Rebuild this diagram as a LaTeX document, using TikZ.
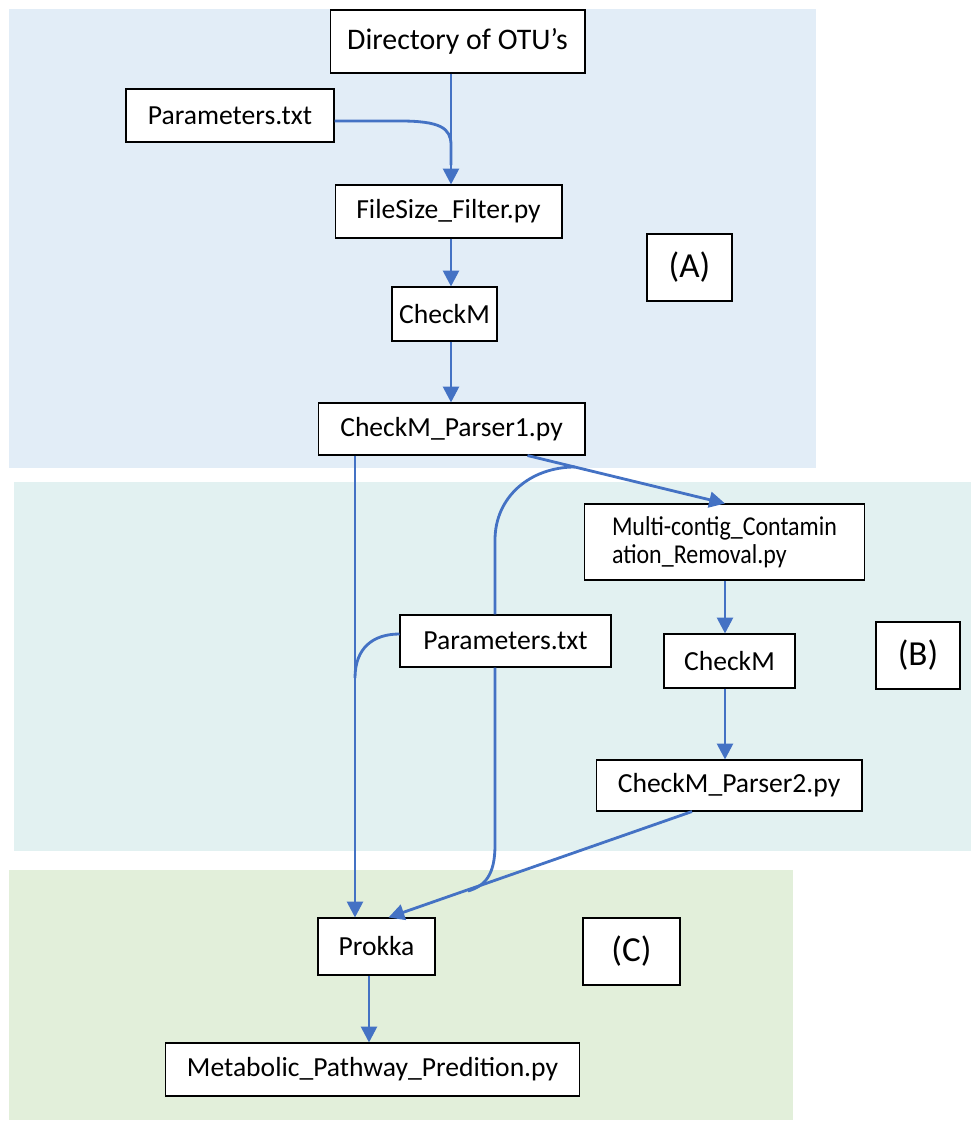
\documentclass[tikz,border=0pt]{standalone}
\usepackage{fontspec}
\setmainfont{Carlito}
\usetikzlibrary{arrows.meta, calc}

\definecolor{bandA}{HTML}{E2EDF7}
\definecolor{bandB}{HTML}{E2F1F1}
\definecolor{bandC}{HTML}{E2EFDA}
\definecolor{flow}{HTML}{4472C4}

\begin{document}
\begin{tikzpicture}[
        x=0.02cm, y=-0.02cm,
        box/.style={rectangle, draw=black, fill=white, line width=0.6pt, inner sep=0pt, align=center, font=\fontsize{15.7}{19}\selectfont},
        tag/.style={box, font=\fontsize{20}{24}\selectfont},
        arr/.style={draw=flow, line width=1.6pt, -{Triangle[length=9pt, width=9pt]}},
        line/.style={draw=flow, line width=1.6pt}
    ]
    \useasboundingbox (0,0) rectangle (972,1122);

    % Bands
    \fill[bandA] (9,9) rectangle (816,468);
    \fill[bandB] (14,482) rectangle (971,851);
    \fill[bandC] (9,870) rectangle (793,1120);

    % Stage (A)
    \node[box, minimum width=5.1cm, minimum height=1.26cm, font=\fontsize{17}{20}\selectfont] (dir) at (457.5,41.5) {Directory of OTU’s};
    \node[box, minimum width=4.16cm, minimum height=1.06cm] (paramA) at (230,115.5) {Parameters.txt};
    \node[box, minimum width=4.54cm, minimum height=1.06cm] (filter) at (448.5,211.5) {FileSize\_Filter.py};
    \node[tag, minimum width=1.7cm, minimum height=1.34cm] (tagA) at (689.5,267.5) {(A)};
    \node[box, minimum width=2.1cm, minimum height=1.08cm] (checkA) at (444.5,314) {CheckM};
    \node[box, minimum width=5.34cm, minimum height=1.04cm] (parserA) at (451.5,429) {CheckM\_Parser1.py};

    % Stage (B)
    \node[box, minimum width=5.6cm, minimum height=1.52cm, align=left, inner xsep=0.44cm, anchor=west, font=\fontsize{15.5}{16}\selectfont\addfontfeatures{FakeStretch=0.88}] (multi) at (584,542) {Multi-contig\_Contamin\\ation\_Removal.py};
    \node[box, minimum width=4.22cm, minimum height=1.04cm] (paramB) at (505.5,641) {Parameters.txt};
    \node[box, minimum width=2.62cm, minimum height=1.08cm] (checkB) at (729.5,661) {CheckM};
    \node[tag, minimum width=1.68cm, minimum height=1.34cm] (tagB) at (918,655.5) {(B)};
    \node[box, minimum width=5.32cm, minimum height=1.02cm] (parserB) at (729,785.5) {CheckM\_Parser2.py};

    % Stage (C)
    \node[box, minimum width=2.34cm, minimum height=1.14cm] (prokka) at (376.5,946.5) {Prokka};
    \node[tag, minimum width=1.94cm, minimum height=1.34cm] (tagC) at (631.5,951.5) {(C)};
    \node[box, minimum width=8.3cm, minimum height=1.06cm] (metab) at (372.5,1069.5) {Metabolic\_Pathway\_Predition.py};

    % Spines
    \coordinate (spineA) at (451,0);
    \coordinate (spineB) at (725,0);
    \coordinate (spineC) at (355,0);
    \coordinate (spineD) at (495,0);
    \coordinate (spineE) at (369,0);
    \coordinate (joinA) at (451,165);
    \coordinate (joinB) at (575,467);
    \coordinate (joinC) at (355,678);
    \coordinate (joinD) at (468,891);

    % Connections
    \draw[arr] (dir.south -| spineA) -- (filter.north -| spineA);
    \draw[line] (paramA.east |- 0,121) -- (400,121) .. controls (440,121) and (451,128) .. (451,145) -- (joinA);
    \draw[arr] (filter.south -| spineA) -- (checkA.north -| spineA);
    \draw[arr] (checkA.south -| spineA) -- (parserA.north -| spineA);
    \draw[arr] ($(parserA.south)+(76,0)$) -- (multi.north -| spineB);
    \draw[arr] (parserA.south -| spineC) -- (prokka.north -| spineC);
    \draw[line] (paramB.north -| spineD) -- (495,540) .. controls (495,497) and (530,467) .. (joinB);
    \draw[line] (paramB.west |- 0,634) .. controls (373,634) and (355,648) .. (joinC);
    \draw[line] (paramB.south -| spineD) -- (495,845) .. controls (495,875) and (485,886) .. (joinD);
    \draw[arr] (multi.south -| spineB) -- (checkB.north -| spineB);
    \draw[arr] (checkB.south -| spineB) -- (parserB.north -| spineB);
    \draw[arr] ($(parserB.south)+(-37,0)$) -- ($(prokka.north)+(12,0)$);
    \draw[arr] (prokka.south -| spineE) -- (metab.north -| spineE);

\end{tikzpicture}
\end{document}
